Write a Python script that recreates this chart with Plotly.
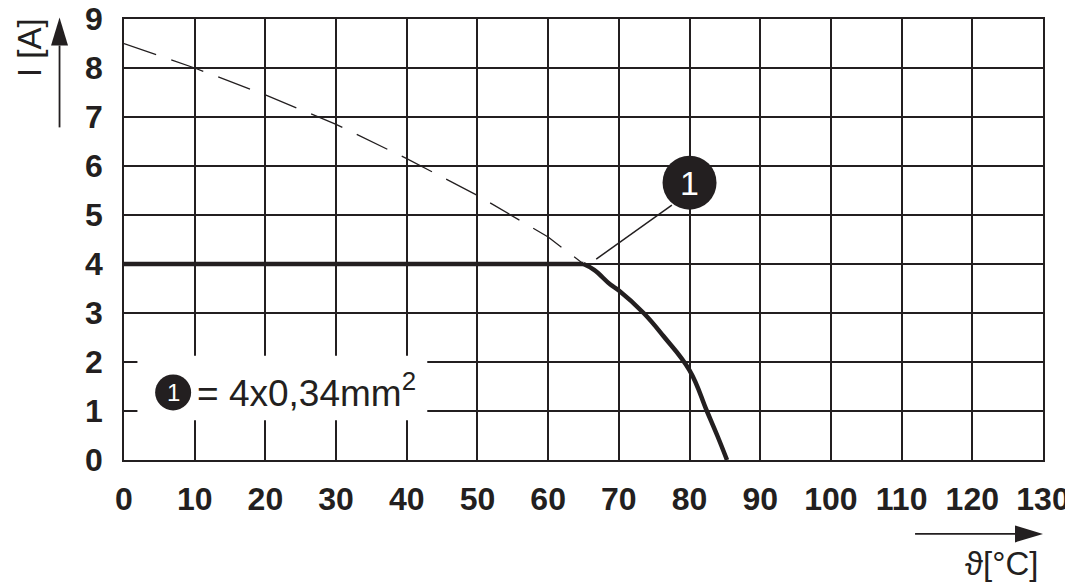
import plotly.graph_objects as go

# dashed curve (reference without derating)
dash_x = [0, 10, 20, 30, 40, 50, 60, 65, 67]
dash_y = [8.5, 8.0, 7.45, 6.85, 6.15, 5.4, 4.55, 4.0, 3.85]

# solid curve (derated current): flat part, then the bend
flat_x = [0, 65]
flat_y = [4.0, 4.0]
bend_x = [65, 66.5, 68.8, 70, 73.5, 76.3, 80, 82.45, 83.95, 85.3]
bend_y = [4.0, 3.88, 3.58, 3.46, 3.0, 2.53, 1.83, 1.0, 0.49, 0.0]

x_ticks = list(range(0, 131, 10))
y_ticks = list(range(0, 10))

ink = '#231f20'
font_family = 'Liberation Sans, Arial, sans-serif'

# the page adds an 8px body margin, so the figure is 8px smaller on each side
OFF = 8
W, H = 1073 - OFF, 586 - OFF
ML, MR, MT, MB = 123.5 - OFF, 30, 18.5 - OFF, 126
plot_w = W - ML - MR
plot_h = H - MT - MB


def px_to_paper(px, py):
    # page pixel -> paper coords
    px, py = px - OFF, py - OFF
    return (px - ML) / plot_w, (H - MB - py) / plot_h


def arrow_shapes(tail, tip, head_len=28, head_w=17):
    # line + filled triangle, given in page pixels, returned in paper coords
    (x0, y0), (x1, y1) = tail, tip
    dx, dy = x1 - x0, y1 - y0
    n = (dx * dx + dy * dy) ** 0.5
    ux, uy = dx / n, dy / n
    bx, by = x1 - ux * head_len, y1 - uy * head_len
    px_, py_ = -uy * head_w / 2, ux * head_w / 2
    p_tail = px_to_paper(x0, y0)
    p_base = px_to_paper(bx, by)
    p_tip = px_to_paper(x1, y1)
    p_l = px_to_paper(bx + px_, by + py_)
    p_r = px_to_paper(bx - px_, by - py_)
    line = dict(type='line', xref='paper', yref='paper',
                x0=p_tail[0], y0=p_tail[1], x1=p_base[0], y1=p_base[1],
                line=dict(color=ink, width=1.8))
    head = dict(type='path', xref='paper', yref='paper',
                path=f'M{p_tip[0]},{p_tip[1]} L{p_l[0]},{p_l[1]} L{p_r[0]},{p_r[1]} Z',
                fillcolor=ink, line=dict(width=0))
    return [line, head]


fig = go.Figure()

fig.add_trace(go.Scatter(
    x=dash_x, y=dash_y, mode='lines',
    line=dict(color=ink, width=1.3, dash='34px,16px'),
    hoverinfo='skip'
))
fig.add_trace(go.Scatter(
    x=flat_x, y=flat_y, mode='lines',
    line=dict(color=ink, width=4.5),
    hoverinfo='skip'
))
fig.add_trace(go.Scatter(
    x=bend_x, y=bend_y, mode='lines', line_shape='spline',
    line=dict(color=ink, width=4.5, smoothing=1.2),
    hoverinfo='skip'
))

# white box behind the legend text
fig.add_shape(type='rect', x0=1.9, x1=42.9, y0=0.81, y1=2.13,
              fillcolor='white', line=dict(width=0), layer='above')

# leader line to marker 1
fig.add_shape(type='line', x0=66.8, y0=4.1, x1=77.5, y1=5.2,
              line=dict(color=ink, width=1.5))

# marker circle "1" on the chart
fig.add_shape(type='circle', xsizemode='pixel', ysizemode='pixel',
              xanchor=80.0, yanchor=5.66, x0=-27, x1=27, y0=-27, y1=27,
              fillcolor=ink, line=dict(width=0))
fig.add_annotation(x=80.0, y=5.66, text='1', showarrow=False,
                   font=dict(family=font_family, size=34, color='white'))

# legend circle "1"
fig.add_shape(type='circle', xsizemode='pixel', ysizemode='pixel',
              xanchor=6.95, yanchor=1.38, x0=-18, x1=18, y0=-18, y1=18,
              fillcolor=ink, line=dict(width=0), layer='above')
fig.add_annotation(x=6.95, y=1.38, text='1', showarrow=False,
                   font=dict(family=font_family, size=24, color='white'))
fig.add_annotation(x=10.0, y=1.42, xanchor='left', text='= 4x0,34mm<sup>2</sup>',
                   showarrow=False,
                   font=dict(family=font_family, size=37, color=ink))

# axis titles
tx, ty = px_to_paper(29, 47)
fig.add_annotation(x=tx, y=ty, xref='paper', yref='paper', text='I [A]',
                   xanchor='center', yanchor='middle',
                   showarrow=False, textangle=-90,
                   font=dict(family=font_family, size=33, color=ink))
tx, ty = px_to_paper(1001, 564)
fig.add_annotation(x=tx, y=ty, xref='paper', yref='paper', text='ϑ[°C]',
                   xanchor='center', yanchor='middle',
                   showarrow=False,
                   font=dict(family=font_family, size=33, color=ink))

# axis arrows
for s in arrow_shapes((59, 127), (59, 17)) + arrow_shapes((915, 534), (1043, 534)):
    fig.add_shape(**s)

fig.update_layout(
    width=W, height=H,
    margin=dict(l=ML, r=MR, t=MT, b=MB, pad=0),
    plot_bgcolor='white', paper_bgcolor='white',
    showlegend=False,
    font=dict(family=font_family, color=ink),
)

fig.update_xaxes(
    range=[0, 130], tickvals=x_ticks, ticktext=[str(v) for v in x_ticks],
    showgrid=True, gridcolor=ink, gridwidth=1.5,
    showline=True, linecolor=ink, linewidth=1.5, mirror=True,
    zeroline=False, ticks='', ticklabelstandoff=10, automargin=False,
    ticklabeloverflow='allow',
    tickfont=dict(family=font_family, size=32, color=ink, weight='bold'),
)
fig.update_yaxes(
    range=[0, 9], tickvals=y_ticks, ticktext=[str(v) for v in y_ticks],
    showgrid=True, gridcolor=ink, gridwidth=1.5,
    showline=True, linecolor=ink, linewidth=1.5, mirror=True,
    zeroline=False, ticks='', ticklabelstandoff=13, automargin=False,
    ticklabeloverflow='allow',
    tickfont=dict(family=font_family, size=32, color=ink, weight='bold'),
)

fig.write_html('out.html')
